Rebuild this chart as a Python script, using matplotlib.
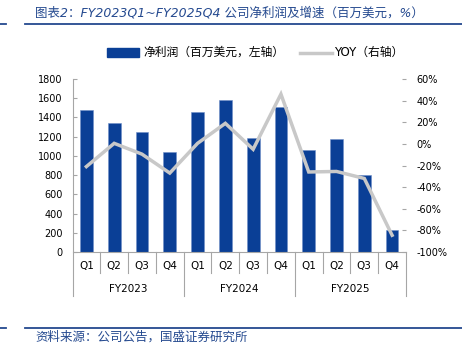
import matplotlib
matplotlib.use("Agg")
import matplotlib.pyplot as plt
from matplotlib.lines import Line2D
from matplotlib.patches import Rectangle
from matplotlib.ticker import FuncFormatter
import matplotlib.transforms as mtransforms

plt.rcParams['font.family'] = ['DejaVu Sans', 'Noto Sans CJK SC']

quarters = ["Q1", "Q2", "Q3", "Q4"] * 3
years = ["FY2023", "FY2024", "FY2025"]
net_profit = [1480, 1345, 1250, 1040, 1460, 1585, 1185, 1510, 1065, 1175, 805, 230]
yoy = [-21, 0.5, -9.5, -27, 0.5, 19, -5, 46, -26, -25.5, -32, -84.5]

bar_color = "#0A3F96"
line_color = "#C8C8C8"
title_color = "#24498F"
axis_gray = "#A6A6A6"

W, H = 462, 352
fig = plt.figure(figsize=(W / 100, H / 100), dpi=100)
ax_l, ax_r, ax_b, ax_t = 72.5, 406, 252, 79
ax = fig.add_axes([ax_l / W, 1 - ax_b / H, (ax_r - ax_l) / W, (ax_b - ax_t) / H])

x = list(range(len(net_profit)))
ax.bar(x, net_profit, width=0.46, color=bar_color, edgecolor="#6F8FC8", linewidth=0.4, zorder=2)
ax.set_xlim(-0.5, len(x) - 0.5)
ax.set_ylim(0, 1800)
ax.set_yticks(range(0, 1801, 200))
ax.set_xticks([])

ax2 = ax.twinx()
ax2.plot(x, yoy, color=line_color, linewidth=2.5, zorder=3, solid_joinstyle="miter")
ax2.set_ylim(-100, 60)
ax2.set_yticks(range(-100, 61, 20))
ax2.yaxis.set_major_formatter(FuncFormatter(lambda v, p: f"{int(v)}%"))

for a in (ax, ax2):
    for s in ("top", "right", "left"):
        a.spines[s].set_visible(False)
    a.spines["bottom"].set_color(axis_gray)
    a.spines["bottom"].set_linewidth(0.8)
    a.tick_params(axis="y", direction="in", length=3, width=0.8, color=axis_gray,
                  labelsize=7, labelcolor="black")
ax.tick_params(axis="y", pad=7)
ax2.tick_params(axis="y", pad=7.5)
ax2.spines["bottom"].set_visible(False)

# category axis with separators
trans = mtransforms.blended_transform_factory(ax.transData, ax.transAxes)
h_px = ax_b - ax_t
q_depth = -(273 - ax_b) / h_px
y_depth = -(296 - ax_b) / h_px
for i in range(len(x) + 1):
    b = i - 0.5
    depth = y_depth if i % 4 == 0 else q_depth
    top = 1.0 if i == 0 else 0.0
    ax.add_line(Line2D([b, b], [depth, top], transform=trans, color=axis_gray,
                       linewidth=0.8, clip_on=False))
for i, q in enumerate(quarters):
    ax.text(i, -(266.5 - ax_b) / h_px, q, transform=trans, ha="center", va="center",
            fontsize=7.5)
for j, yname in enumerate(years):
    ax.text(j * 4 + 1.5, -(289 - ax_b) / h_px, yname, transform=trans, ha="center",
            va="center", fontsize=7.5)

# title and rules
def fx(px):
    return px / W

def fy(py):
    return 1 - py / H

fig.text(fx(35), fy(12.5), "图表2：FY2023Q1~FY2025Q4 公司净利润及增速（百万美元，%）",
         color=title_color, fontsize=9, style="italic", va="center", ha="left",
         family=["DejaVu Sans", "Noto Sans CJK SC"])
for (x0, x1) in ((0, 6), (25, 462)):
    fig.add_artist(Line2D([fx(x0), fx(x1)], [fy(24.3), fy(24.3)], color=title_color,
                          linewidth=1.3))
    fig.add_artist(Line2D([fx(x0), fx(x1)], [fy(328.3), fy(328.3)], color=title_color,
                          linewidth=1.3))
fig.text(fx(35), fy(337.5), "资料来源：公司公告，国盛证券研究所", color=title_color,
         fontsize=9, style="italic", va="center", ha="left",
         family=["DejaVu Sans", "Noto Sans CJK SC"])

# legend
fig.add_artist(Rectangle((fx(107), fy(56.5)), fx(139) - fx(107), fy(48) - fy(56.5),
                         color=bar_color, transform=fig.transFigure))
fig.text(fx(143), fy(52.5), "净利润（百万美元，左轴）", fontsize=8.5, va="center", ha="left",
         family=["Noto Sans CJK SC", "DejaVu Sans"])
fig.add_artist(Line2D([fx(300), fx(332)], [fy(52.5), fy(52.5)], color=line_color,
                      linewidth=2.5))
fig.text(fx(334), fy(52.5), "YOY（右轴）", fontsize=8.5, va="center", ha="left",
         family=["DejaVu Sans", "Noto Sans CJK SC"])

fig.savefig("out.png", dpi=100)
